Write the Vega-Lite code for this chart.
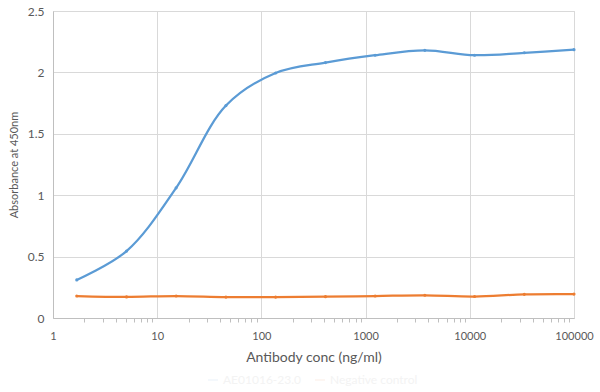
{
  "$schema": "https://vega.github.io/schema/vega-lite/v6.json",
  "autosize": {"type": "none"},
  "width": 521,
  "height": 307,
  "padding": {"left": 53, "top": 11, "right": 26, "bottom": 74},
  "background": "white",
  "config": {
    "font": "Lato",
    "view": {"stroke": "#d9d9d9", "strokeWidth": 1}
  },
  "data": {
    "values": [
      {"conc": 1.69, "absorbance": 0.31, "series": "AE01016-23.0"},
      {"conc": 5.08, "absorbance": 0.545, "series": "AE01016-23.0"},
      {"conc": 15.2, "absorbance": 1.06, "series": "AE01016-23.0"},
      {"conc": 45.7, "absorbance": 1.73, "series": "AE01016-23.0"},
      {"conc": 137, "absorbance": 1.995, "series": "AE01016-23.0"},
      {"conc": 412, "absorbance": 2.08, "series": "AE01016-23.0"},
      {"conc": 1235, "absorbance": 2.14, "series": "AE01016-23.0"},
      {"conc": 3704, "absorbance": 2.18, "series": "AE01016-23.0"},
      {"conc": 11111, "absorbance": 2.14, "series": "AE01016-23.0"},
      {"conc": 33333, "absorbance": 2.16, "series": "AE01016-23.0"},
      {"conc": 100000, "absorbance": 2.185, "series": "AE01016-23.0"},
      {"conc": 1.69, "absorbance": 0.179, "series": "Negative control"},
      {"conc": 5.08, "absorbance": 0.172, "series": "Negative control"},
      {"conc": 15.2, "absorbance": 0.179, "series": "Negative control"},
      {"conc": 45.7, "absorbance": 0.17, "series": "Negative control"},
      {"conc": 137, "absorbance": 0.17, "series": "Negative control"},
      {"conc": 412, "absorbance": 0.174, "series": "Negative control"},
      {"conc": 1235, "absorbance": 0.179, "series": "Negative control"},
      {"conc": 3704, "absorbance": 0.185, "series": "Negative control"},
      {"conc": 11111, "absorbance": 0.175, "series": "Negative control"},
      {"conc": 33333, "absorbance": 0.193, "series": "Negative control"},
      {"conc": 100000, "absorbance": 0.195, "series": "Negative control"}
    ]
  },
  "mark": {
    "type": "line",
    "interpolate": "catmull-rom",
    "strokeWidth": 2.25,
    "point": {"filled": true, "size": 10}
  },
  "encoding": {
    "x": {
      "field": "conc",
      "type": "quantitative",
      "scale": {"type": "log", "domain": [1, 100000], "nice": false},
      "title": "Antibody conc (ng/ml)",
      "axis": {
        "values": [1,2,3,4,5,6,7,8,9,10,20,30,40,50,60,70,80,90,100,200,300,400,500,600,700,800,900,1000,2000,3000,4000,5000,6000,7000,8000,9000,10000,20000,30000,40000,50000,60000,70000,80000,90000,100000],
        "labelExpr": "(datum.value==1||datum.value==10||datum.value==100||datum.value==1000||datum.value==10000||datum.value==100000) ? format(datum.value,'d') : ''",
        "grid": true,
        "gridColor": "#d9d9d9",
        "gridOpacity": {"condition": {"test": "datum.value==1||datum.value==10||datum.value==100||datum.value==1000||datum.value==10000||datum.value==100000", "value": 1}, "value": 0},
        "ticks": true,
        "tickSize": 4,
        "tickOpacity": {"condition": {"test": "datum.value==1||datum.value==10||datum.value==100||datum.value==1000||datum.value==10000||datum.value==100000", "value": 0}, "value": 1},
        "tickColor": "#bfbfbf",
        "domainColor": "#bfbfbf",
        "labelColor": "#595959",
        "labelFontSize": 11,
        "labelPadding": 8,
        "labelFlush": false,
        "labelOverlap": false,
        "titleColor": "#595959",
        "titleFontSize": 14,
        "titleFontWeight": "normal",
        "titlePadding": 9
      }
    },
    "y": {
      "field": "absorbance",
      "type": "quantitative",
      "scale": {"domain": [0, 2.5], "nice": false},
      "title": "Absorbance at 450nm",
      "axis": {
        "values": [0, 0.5, 1, 1.5, 2, 2.5],
        "format": ".1~f",
        "grid": true,
        "gridColor": "#d9d9d9",
        "ticks": false,
        "domainColor": "#bfbfbf",
        "labelColor": "#595959",
        "labelFontSize": 12,
        "labelPadding": 9,
        "titleColor": "#595959",
        "titleFontSize": 11,
        "titleFontWeight": "normal",
        "titlePadding": 8
      }
    },
    "color": {
      "field": "series",
      "type": "nominal",
      "scale": {"domain": ["AE01016-23.0", "Negative control"], "range": ["#5B9BD5", "#ED7D31"]},
      "legend": {
        "orient": "none",
        "legendX": 154,
        "legendY": 363,
        "direction": "horizontal",
        "title": null,
        "labelColor": "#f3f3f3",
        "labelFontSize": 12,
        "symbolOpacity": 0.08,
        "symbolType": "stroke"
      }
    }
  }
}
